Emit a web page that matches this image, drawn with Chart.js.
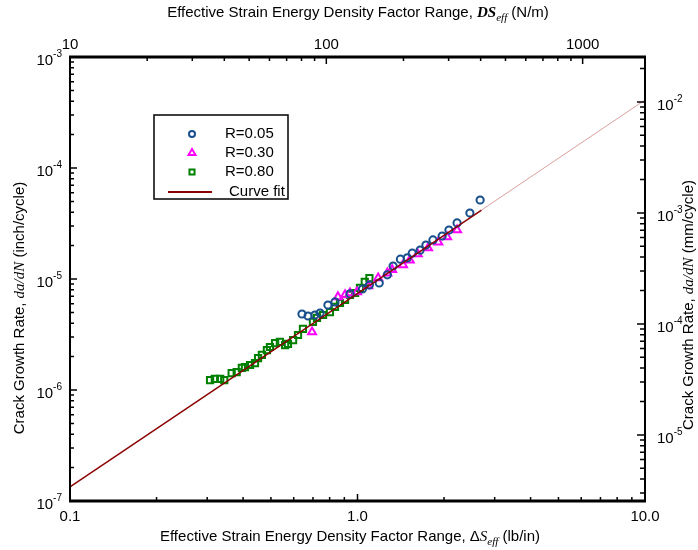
<!DOCTYPE html>
<html>
<head>
<meta charset="utf-8">
<script src="https://cdn.jsdelivr.net/npm/chart.js@4.4.1/dist/chart.umd.min.js"></script>
<style>
html, body { margin: 0; padding: 0; background: #fff; }
#wrap { width: 698px; height: 550px; }
</style>
</head>
<body>
<div id="wrap"><canvas id="fcgChart" width="698" height="550"></canvas></div>
<script>
// R = 0.05 (delta S_eff in lb/in, da/dN in inch/cycle)
const r005X = [0.641, 0.673, 0.711, 0.741, 0.789, 0.835, 0.942, 1.04, 1.10, 1.19, 1.27, 1.33, 1.41, 1.49, 1.55, 1.65, 1.73, 1.83, 1.97, 2.08, 2.22, 2.46, 2.67];
const r005Y = [4.84e-6, 4.64e-6, 4.74e-6, 4.94e-6, 5.83e-6, 6.21e-6, 7.33e-6, 8.13e-6, 8.83e-6, 9.20e-6, 1.09e-5, 1.31e-5, 1.51e-5, 1.55e-5, 1.71e-5, 1.82e-5, 2.02e-5, 2.25e-5, 2.44e-5, 2.76e-5, 3.20e-5, 3.93e-5, 5.15e-5];

// R = 0.30
const r030X = [0.695, 0.855, 0.905, 0.942, 0.996, 1.09, 1.18, 1.27, 1.32, 1.44, 1.52, 1.62, 1.76, 1.91, 2.05, 2.22];
const r030Y = [3.33e-6, 6.89e-6, 7.18e-6, 7.48e-6, 7.64e-6, 8.65e-6, 1.02e-5, 1.13e-5, 1.21e-5, 1.34e-5, 1.48e-5, 1.68e-5, 1.90e-5, 2.15e-5, 2.39e-5, 2.76e-5];

// R = 0.80
const r080X = [0.307, 0.319, 0.333, 0.344, 0.365, 0.380, 0.396, 0.406, 0.423, 0.440, 0.451, 0.465, 0.484, 0.496, 0.517, 0.537, 0.560, 0.573, 0.597, 0.621, 0.646, 0.700, 0.723, 0.759, 0.802, 0.835, 0.869, 0.905, 0.942, 0.981, 1.02, 1.06, 1.10];
const r080Y = [1.23e-6, 1.26e-6, 1.26e-6, 1.23e-6, 1.42e-6, 1.45e-6, 1.58e-6, 1.61e-6, 1.68e-6, 1.75e-6, 1.94e-6, 2.07e-6, 2.29e-6, 2.44e-6, 2.65e-6, 2.71e-6, 2.54e-6, 2.60e-6, 2.82e-6, 3.13e-6, 3.55e-6, 4.10e-6, 4.46e-6, 4.74e-6, 5.04e-6, 5.60e-6, 6.08e-6, 6.47e-6, 7.18e-6, 7.48e-6, 8.30e-6, 9.40e-6, 1.02e-5];

// curve fit, read at the frame edges and where it leaves the data
const fitX = [0.1, 2.7, 10];
const fitY = [1.34e-7, 4.18e-5, 4.1e-4];

// axis ranges and tick labels
const bottomRange = [0.1, 10];
const bottomTicks = [0.1, 1, 10];
const bottomLabels = ["0.1", "1.0", "10.0"];
const topRange = [10, 1751];
const topTicks = [10, 100, 1000];
const topLabels = ["10", "100", "1000"];
const leftRange = [1e-7, 1e-3];
const leftExps = [-7, -6, -5, -4, -3];
const rightRange = [2.54e-6, 2.54e-2];
const rightExps = [-5, -4, -3, -2];

const SANS = "'Liberation Sans', Arial, sans-serif";
const SERIF = "'Liberation Serif', 'Times New Roman', serif";

const pts = (xs, ys) => xs.map((x, i) => ({ x: x, y: ys[i] }));

// draw a run of differently styled pieces, centred on (x, y)
function richText(ctx, parts, x, y, rot) {
    ctx.save();
    ctx.translate(x, y);
    if (rot) ctx.rotate(rot);
    ctx.textBaseline = "middle";
    ctx.textAlign = "left";
    let total = 0;
    parts.forEach(p => { ctx.font = p.font; p.w = ctx.measureText(p.text).width; total += p.w; });
    let cx = -total / 2;
    parts.forEach(p => {
        ctx.font = p.font;
        ctx.fillStyle = "#000";
        ctx.fillText(p.text, cx, p.dy || 0);
        cx += p.w;
    });
    ctx.restore();
}

function powerLabel(ctx, exp, x, y, align) {
    ctx.save();
    ctx.textBaseline = "middle";
    ctx.fillStyle = "#000";
    ctx.font = "15px " + SANS;
    const base = "10";
    const wb = ctx.measureText(base).width;
    ctx.font = "10px " + SANS;
    const sup = String(exp);
    const ws = ctx.measureText(sup).width;
    let x0 = align === "right" ? x - wb - ws : x;
    ctx.font = "15px " + SANS;
    ctx.textAlign = "left";
    ctx.fillText(base, x0, y + 4);
    ctx.font = "10px " + SANS;
    ctx.fillText(sup, x0 + wb, y - 3);
    ctx.restore();
}

function logTicks(min, max) {
    const out = [];
    for (let e = Math.floor(Math.log10(min)) - 1; e <= Math.ceil(Math.log10(max)); e++) {
        for (let m = 1; m <= 9; m++) {
            const v = m * Math.pow(10, e);
            if (v >= min * 0.9999 && v <= max * 1.0001) out.push({ v: v, major: m === 1 });
        }
    }
    return out;
}

const framePlugin = {
    id: "frame",
    afterDraw(chart) {
        const ctx = chart.ctx;
        const a = chart.chartArea;
        const sx = chart.scales.x, sx2 = chart.scales.x2, sy = chart.scales.y, sy2 = chart.scales.y2;

        // ticks, pointing inward
        ctx.save();
        ctx.strokeStyle = "#000";
        ctx.lineWidth = 1.5;
        ctx.beginPath();
        logTicks(bottomRange[0], bottomRange[1]).forEach(t => {
            const px = sx.getPixelForValue(t.v);
            ctx.moveTo(px, a.bottom); ctx.lineTo(px, a.bottom - (t.major ? 7 : 4));
        });
        logTicks(topRange[0], topRange[1]).forEach(t => {
            const px = sx2.getPixelForValue(t.v);
            ctx.moveTo(px, a.top); ctx.lineTo(px, a.top + (t.major ? 7 : 4));
        });
        logTicks(leftRange[0], leftRange[1]).forEach(t => {
            const py = sy.getPixelForValue(t.v);
            ctx.moveTo(a.left, py); ctx.lineTo(a.left + (t.major ? 7 : 4), py);
        });
        logTicks(rightRange[0], rightRange[1]).forEach(t => {
            const py = sy2.getPixelForValue(t.v);
            ctx.moveTo(a.right, py); ctx.lineTo(a.right - (t.major ? 8 : 5), py);
        });
        ctx.stroke();

        // frame: heavier top and bottom
        ctx.lineWidth = 3;
        ctx.beginPath();
        ctx.moveTo(a.left - 1, a.top); ctx.lineTo(a.right + 1, a.top);
        ctx.moveTo(a.left - 1, a.bottom); ctx.lineTo(a.right + 1, a.bottom);
        ctx.stroke();
        ctx.lineWidth = 2;
        ctx.beginPath();
        ctx.moveTo(a.left, a.top); ctx.lineTo(a.left, a.bottom);
        ctx.moveTo(a.right, a.top); ctx.lineTo(a.right, a.bottom);
        ctx.stroke();
        ctx.restore();

        // tick labels
        ctx.save();
        ctx.fillStyle = "#000";
        ctx.font = "15px " + SANS;
        ctx.textAlign = "center";
        ctx.textBaseline = "middle";
        bottomTicks.forEach((v, i) => ctx.fillText(bottomLabels[i], sx.getPixelForValue(v), a.bottom + 16));
        topTicks.forEach((v, i) => ctx.fillText(topLabels[i], sx2.getPixelForValue(v), a.top - 12));
        ctx.restore();
        leftExps.forEach(e => powerLabel(ctx, e, a.left - 8, sy.getPixelForValue(Math.pow(10, e)), "right"));
        rightExps.forEach(e => powerLabel(ctx, e, a.right + 12, sy2.getPixelForValue(Math.pow(10, e)), "left"));

        // axis titles
        const plain = "15px " + SANS;
        richText(ctx, [
            { text: "Effective Strain Energy Density Factor Range, ", font: plain },
            { text: "\u0394", font: plain },
            { text: "S", font: "italic 15px " + SERIF },
            { text: "eff", font: "italic 11px " + SERIF, dy: 5 },
            { text: " (lb/in)", font: plain }
        ], 350, 537);
        richText(ctx, [
            { text: "Effective Strain Energy Density Factor Range, ", font: plain },
            { text: "DS", font: "bold italic 15px " + SERIF },
            { text: "eff", font: "italic 11px " + SERIF, dy: 5 },
            { text: " (N/m)", font: plain }
        ], 358, 13);
        const dadn = { text: "da/dN", font: "italic 15px " + SERIF };
        richText(ctx, [
            { text: "Crack Growth Rate, ", font: plain }, dadn, { text: " (inch/cycle)", font: plain }
        ], 20, 308, -Math.PI / 2);
        richText(ctx, [
            { text: "Crack Growth Rate, ", font: plain }, dadn, { text: " (mm/cycle)", font: plain }
        ], 689, 305, -Math.PI / 2);

        // legend box
        const lx = 154, ly = 115, lw = 134, lh = 84;
        ctx.save();
        ctx.fillStyle = "#fff";
        ctx.fillRect(lx, ly, lw, lh);
        ctx.strokeStyle = "#000";
        ctx.lineWidth = 1.5;
        ctx.strokeRect(lx, ly, lw, lh);
        const rows = [134, 153, 172, 192];
        chart.data.datasets.forEach((ds, i) => {
            const ry = rows[i];
            if (ds.showLine) {
                ctx.strokeStyle = ds.borderColor;
                ctx.lineWidth = 2;
                ctx.beginPath();
                ctx.moveTo(168, ry); ctx.lineTo(212, ry);
                ctx.stroke();
            } else {
                ctx.strokeStyle = ds.borderColor;
                ctx.fillStyle = "rgba(0,0,0,0)";
                ctx.lineWidth = ds.borderWidth;
                Chart.helpers.drawPoint(ctx, { pointStyle: ds.pointStyle, radius: ds.legendRadius, borderWidth: ds.borderWidth, rotation: 0 }, 192, ry);
            }
            ctx.fillStyle = "#000";
            ctx.font = "15px " + SANS;
            ctx.textAlign = "left";
            ctx.textBaseline = "middle";
            ctx.fillText(ds.label, ds.showLine ? 229 : 225, ry);
        });
        ctx.restore();
    }
};

new Chart(document.getElementById("fcgChart"), {
    type: "scatter",
    data: {
        datasets: [
            {
                label: "R=0.05",
                data: pts(r005X, r005Y),
                pointStyle: "circle",
                pointRadius: 3.6,
                legendRadius: 3,
                borderWidth: 2,
                borderColor: "#174f8c",
                backgroundColor: "rgba(0,0,0,0)",
                order: 1
            },
            {
                label: "R=0.30",
                data: pts(r030X, r030Y),
                pointStyle: "triangle",
                pointRadius: 4.6,
                legendRadius: 4,
                borderWidth: 2,
                borderColor: "#ff00ff",
                backgroundColor: "rgba(0,0,0,0)",
                order: 2
            },
            {
                label: "R=0.80",
                data: pts(r080X, r080Y),
                pointStyle: "rect",
                pointRadius: 4.4,
                legendRadius: 3.6,
                borderWidth: 2,
                borderColor: "#008000",
                backgroundColor: "rgba(0,0,0,0)",
                order: 3
            },
            {
                label: "Curve fit",
                data: pts(fitX, fitY),
                showLine: true,
                pointRadius: 0,
                borderWidth: 1.5,
                borderColor: "#8b0000",
                segment: {
                    borderColor: c => c.p0DataIndex === 1 ? "rgba(190,80,80,0.55)" : "#8b0000",
                    borderWidth: c => c.p0DataIndex === 1 ? 1 : 1.5
                },
                order: 0
            }
        ]
    },
    options: {
        responsive: false,
        animation: false,
        layout: { padding: { left: 70, right: 53, top: 57, bottom: 49 } },
        plugins: { legend: { display: false }, tooltip: { enabled: false } },
        scales: {
            x: { type: "logarithmic", position: "bottom", min: bottomRange[0], max: bottomRange[1], display: false },
            x2: { type: "logarithmic", position: "top", min: topRange[0], max: topRange[1], display: false },
            y: { type: "logarithmic", position: "left", min: leftRange[0], max: leftRange[1], display: false },
            y2: { type: "logarithmic", position: "right", min: rightRange[0], max: rightRange[1], display: false }
        }
    },
    plugins: [framePlugin]
});
</script>
</body>
</html>
